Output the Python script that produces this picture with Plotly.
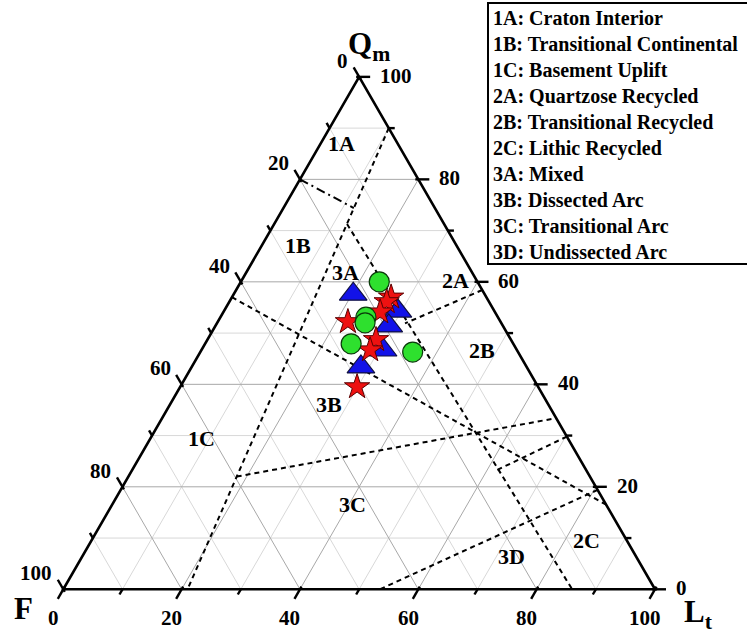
import numpy as np
import plotly.graph_objects as go

# ---------------- data (percent: Qm, F, Lt) ----------------
circle_qm = [60.0, 53.1, 52.0, 47.9, 46.3]
circle_f = [16.6, 22.3, 23.0, 27.4, 17.8]
circle_lt = [23.4, 24.6, 25.0, 24.7, 35.9]

triangle_qm = [57.6, 54.3, 51.4, 46.7, 43.4]
triangle_f = [22.2, 16.3, 19.3, 22.6, 28.0]
triangle_lt = [20.2, 29.4, 29.3, 30.7, 28.6]

star_qm = [57.0, 56.1, 54.1, 52.2, 48.7, 46.7, 39.5]
star_f = [16.1, 17.3, 19.4, 25.8, 22.8, 24.8, 30.6]
star_lt = [26.9, 26.6, 26.5, 22.0, 28.5, 28.5, 29.9]

# provenance field boundaries, each a pair of (Qm, F, Lt) end points
field_lines = [
    [(90.0, 0.0, 10.0), (0.0, 79.0, 21.0)],
    [(71.3, 16.4, 12.3), (0.0, 14.0, 86.0)],
    [(57.0, 43.0, 0.0), (16.5, 0.0, 83.5)],
    [(22.0, 59.7, 18.3), (33.4, 0.0, 66.6)],
    [(58.4, 0.0, 41.6), (51.9, 16.3, 31.8)],
    [(29.8, 0.0, 70.2), (23.3, 15.0, 61.7)],
    [(19.4, 0.0, 80.6), (0.0, 46.5, 53.5)],
]
craton_line = [(80.0, 20.0, 0.0), (74.4, 13.7, 11.9)]

field_names = ["1A", "1B", "1C", "2A", "2B", "2C", "3A", "3B", "3C", "3D"]
field_qm = [87.0, 67.0, 29.5, 60.2, 46.7, 9.6, 61.9, 36.0, 16.5, 6.4]
field_f = [9.4, 26.8, 61.9, 3.7, 5.9, 6.7, 21.3, 37.1, 42.8, 21.0]
field_lt = [3.6, 6.2, 8.6, 36.1, 47.4, 83.7, 16.8, 26.9, 40.7, 72.6]

legend_lines = [
    "1A: Craton Interior",
    "1B: Transitional Continental",
    "1C: Basement Uplift",
    "2A: Quartzose Recycled",
    "2B: Transitional Recycled",
    "2C: Lithic Recycled",
    "3A: Mixed",
    "3B: Dissected Arc",
    "3C: Transitional Arc",
    "3D: Undissected Arc",
]

tick_values = list(range(0, 101, 10))

# ---------------- geometry ----------------
W, H = 747, 633
X0_PX, Y0_PX, SIDE_PX = 63.3, 589.3, 591.7   # bottom-left corner and side length (px)
PX = 1.0 / SIDE_PX
S3 = np.sqrt(3) / 2
FONT = "Liberation Serif"


def tern(qm, f, lt):
    qm = np.asarray(qm, dtype=float)
    f = np.asarray(f, dtype=float)
    lt = np.asarray(lt, dtype=float)
    s = qm + f + lt
    q, l = qm / s, lt / s
    return l + q / 2, q * S3


def bold(t):
    return "<b>%s</b>" % t


fig = go.Figure()


def add_segments(segs, color, width, dash="solid"):
    xs, ys = [], []
    for (x0, y0), (x1, y1) in segs:
        xs += [x0, x1, None]
        ys += [y0, y1, None]
    fig.add_trace(go.Scatter(x=xs, y=ys, mode="lines", hoverinfo="skip",
                             line=dict(color=color, width=width, dash=dash),
                             showlegend=False))


# grid lines
minor, major = [], []
for v in range(10, 100, 10):
    w = 100 - v
    for a, b in [((v, w, 0), (v, 0, w)),
                 ((w, v, 0), (0, v, w)),
                 ((w, 0, v), (0, w, v))]:
        seg = (tern(*a), tern(*b))
        (major if v % 20 == 0 else minor).append(seg)
add_segments(minor, "#d8d8d8", 1)
add_segments(major, "#a8a8a8", 1)

# field boundaries
segs = []
for p0, p1 in field_lines:
    segs.append((tern(*p0), tern(*p1)))
add_segments(segs, "black", 2, dash="5px,4px")
add_segments([(tern(*craton_line[0]), tern(*craton_line[1]))], "black", 2,
             dash="9px,4px,2px,4px")

# triangle frame
fx, fy = tern([100, 0, 0, 100], [0, 100, 0, 0], [0, 0, 100, 0])
fig.add_trace(go.Scatter(x=fx, y=fy, mode="lines", hoverinfo="skip",
                         line=dict(color="black", width=2.6), showlegend=False))

# ticks and tick labels
ticks = []
annotations = []
lab_font = dict(family=FONT, size=21, color="black")
for v in tick_values:
    maj = v % 20 == 0
    out = (11 if maj else 6) * PX
    inn = (3 if maj else 0) * PX
    # bottom edge: Lt
    bx, by = tern(0, 100 - v, v)
    d = (-0.5, -S3)
    ticks.append(((bx - d[0] * inn, by - d[1] * inn), (bx + d[0] * out, by + d[1] * out)))
    if maj:
        annotations.append(dict(x=bx - 10 * PX, y=by - 29 * PX, text=bold(v),
                                xanchor="center", yanchor="middle"))
    # left edge: F
    lx, ly = tern(100 - v, v, 0)
    d = (-0.5, S3)
    ticks.append(((lx - d[0] * inn, ly - d[1] * inn), (lx + d[0] * out, ly + d[1] * out)))
    if maj:
        annotations.append(dict(x=lx - 9 * PX, y=ly + 16 * PX, text=bold(v),
                                xanchor="right", yanchor="middle"))
    # right edge: Qm
    rx, ry = tern(v, 0, 100 - v)
    d = (1.0, 0.0)
    ticks.append(((rx - d[0] * inn, ry), (rx + d[0] * out, ry)))
    if maj:
        annotations.append(dict(x=rx + 19 * PX, y=ry + 1 * PX, text=bold(v),
                                xanchor="left", yanchor="middle"))
add_segments(ticks, "black", 2.4)

for a in annotations:
    a.update(xref="x", yref="y", showarrow=False, font=lab_font)

# field labels
lx, ly = tern(field_qm, field_f, field_lt)
for name, x, y in zip(field_names, lx, ly):
    annotations.append(dict(x=x, y=y, xref="x", yref="y", text=bold(name), showarrow=False,
                            xanchor="center", yanchor="middle",
                            font=dict(family=FONT, size=22, color="black")))

# apex titles
title_font = dict(family=FONT, size=31, color="black")
qx, qy = tern(100, 0, 0)
annotations.append(dict(x=qx + 10 * PX, y=qy + 31 * PX, xref="x", yref="y",
                        text="<b>Q<sub>m</sub></b>", showarrow=False, font=title_font,
                        xanchor="center", yanchor="middle"))
fxx, fyy = tern(0, 100, 0)
annotations.append(dict(x=fxx - 40 * PX, y=fyy - 19 * PX, xref="x", yref="y",
                        text="<b>F</b>", showarrow=False, font=title_font,
                        xanchor="center", yanchor="middle"))
lxx, lyy = tern(0, 0, 100)
annotations.append(dict(x=lxx + 27 * PX, y=lyy - 25 * PX, xref="x", yref="y",
                        text="<b>L<sub>t</sub></b>", showarrow=False, font=title_font,
                        xanchor="left", yanchor="middle"))

# field key box
for i, t in enumerate(legend_lines):
    annotations.append(dict(x=491 / W, y=1 - (18.5 + 25.9 * i) / H, xref="paper", yref="paper",
                            text=bold(t), showarrow=False, xanchor="left",
                            yanchor="middle", font=dict(family=FONT, size=20, color="black")))

# sample points
tx, ty = tern(triangle_qm, triangle_f, triangle_lt)
fig.add_trace(go.Scatter(x=tx, y=ty, mode="markers", name="Triangle samples",
                         marker=dict(symbol="triangle-up", size=24, color="#1212e8",
                                     line=dict(color="#101040", width=1.2)),
                         showlegend=False))
sx, sy = tern(star_qm, star_f, star_lt)
fig.add_trace(go.Scatter(x=sx, y=sy, mode="markers", name="Star samples",
                         marker=dict(symbol="star", size=19, color="#ee1111",
                                     line=dict(color="#5a0000", width=1)),
                         showlegend=False))
cx, cy = tern(circle_qm, circle_f, circle_lt)
fig.add_trace(go.Scatter(x=cx, y=cy, mode="markers", name="Circle samples",
                         marker=dict(symbol="circle", size=20, color="#2ee02e",
                                     line=dict(color="#0a3a0a", width=1.2)),
                         showlegend=False))

fig.update_layout(
    width=W, height=H,
    margin=dict(l=0, r=0, t=0, b=0),
    paper_bgcolor="white", plot_bgcolor="white",
    xaxis=dict(range=[-X0_PX / SIDE_PX, (W - X0_PX) / SIDE_PX], visible=False, fixedrange=True),
    yaxis=dict(range=[-(H - Y0_PX) / SIDE_PX, Y0_PX / SIDE_PX], visible=False, fixedrange=True),
    annotations=annotations,
    shapes=[dict(type="rect", xref="paper", yref="paper",
                 x0=488 / W, x1=1.02, y0=1 - 264 / H, y1=1 - 3 / H,
                 line=dict(color="black", width=2), fillcolor="rgba(0,0,0,0)")],
    showlegend=False,
)

fig.write_html("out.html")
